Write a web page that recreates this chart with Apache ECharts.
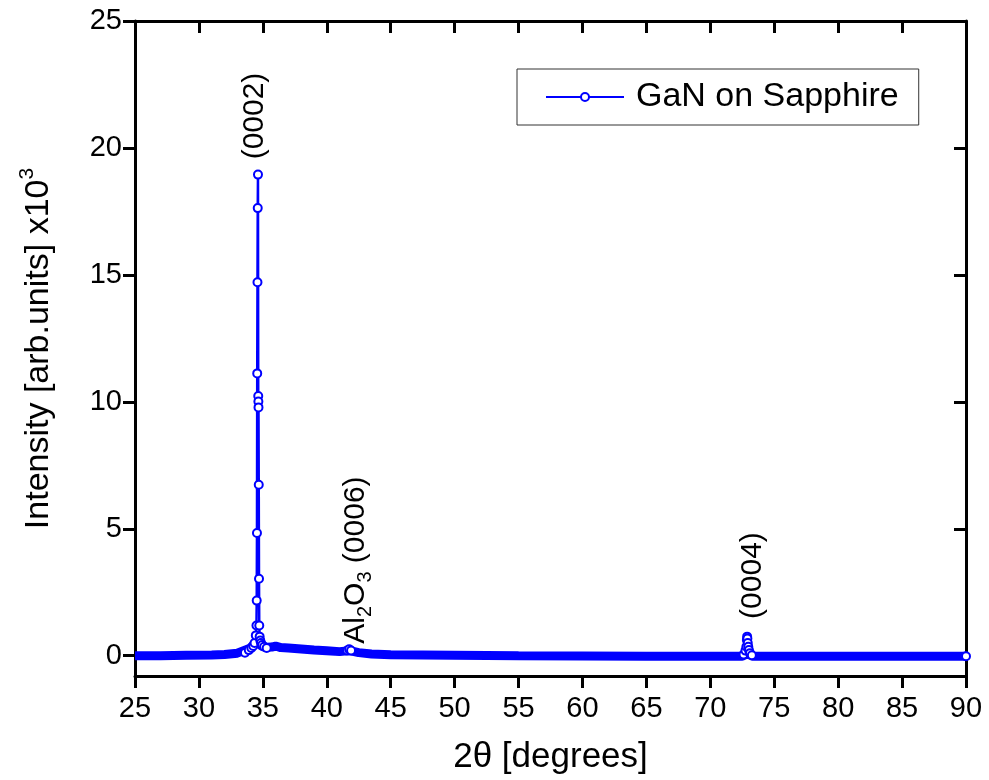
<!DOCTYPE html>
<html>
<head>
<meta charset="utf-8">
<script src="https://cdn.jsdelivr.net/npm/echarts@6/dist/echarts.min.js"></script>
<style>html,body{margin:0;padding:0;background:#fff}#c{width:989px;height:780px}</style>
</head>
<body>
<div id="c"></div>
<script>
// ---- data ----
// smooth background band of the dense scan (2theta in degrees, intensity x10^3)
var bandX = [25, 27, 29, 31, 32, 33, 33.5, 34, 34.3, 34.6, 34.9, 35.3, 35.7, 36.0, 36.4, 37, 38, 39, 40, 41, 41.8, 42.5, 43.5, 45, 50, 55, 60, 65, 70, 72.5, 72.9, 73.3, 75, 80, 85, 90];
var bandY = [0.0, 0.0, 0.02, 0.03, 0.05, 0.1, 0.2, 0.3, 0.45, 0.5, 0.38, 0.33, 0.34, 0.38, 0.32, 0.3, 0.26, 0.22, 0.19, 0.16, 0.2, 0.12, 0.07, 0.04, 0.02, 0.0, -0.01, -0.02, -0.02, -0.02, 0.08, -0.02, -0.02, -0.02, -0.02, -0.02];

// measured points with visible markers (null breaks the trace between regions)
var peakX = [33.6, 33.9, 34.1, 34.25, 34.35, 34.45, 34.5, 34.52, 34.54, 34.56, 34.58, 34.6, 34.62, 34.64, 34.65, 34.66, 34.68, 34.7, 34.72, 34.75, 34.8, 34.85, 34.95, 35.1, 35.3,
             null,
             41.6, 41.75, 41.9,
             null,
             72.6, 72.75, 72.82, 72.86, 72.88, 72.9, 72.93, 72.97, 73.02, 73.1, 73.25,
             null,
             90];
var peakY = [0.12, 0.22, 0.3, 0.38, 0.5, 0.8, 1.19, 2.17, 4.83, 11.12, 14.71, 17.63, 18.95, 10.23, 10.01, 9.78, 6.73, 3.03, 1.19, 0.75, 0.6, 0.5, 0.42, 0.35, 0.3,
             null,
             0.2, 0.25, 0.2,
             null,
             0.05, 0.2, 0.35, 0.62, 0.75, 0.68, 0.5, 0.35, 0.22, 0.1, 0.02,
             null,
             -0.02];

var seriesName = 'GaN on Sapphire';
var xTicks = [25, 30, 35, 40, 45, 50, 55, 60, 65, 70, 75, 80, 85, 90];
var yTicks = [0, 5, 10, 15, 20, 25];

// annotation labels: anchor (bottom of rotated text) in data coords
var annX = [34.39, 42.25, 73.35];
var annY = [19.55, 0.47, 1.45];
var annText = ['(0002)', 'Al{sub|2}O{sub|3} (0006)', '(0004)'];

// ---- build ----
var FONT = 'Liberation Sans, Arial, sans-serif';
var BLUE = '#0000ff';

function pairs(xs, ys) {
  var out = [];
  for (var i = 0; i < xs.length; i++) {
    out.push(xs[i] === null ? [null, null] : [xs[i], ys[i]]);
  }
  return out;
}

var chart = echarts.init(document.getElementById('c'), null, {renderer: 'canvas'});

var axisLine = {show: true, onZero: false, lineStyle: {color: '#000', width: 3}};

var option = {
  animation: false,
  backgroundColor: '#fff',
  grid: {left: 135, right: 23, top: 21, bottom: 103, containLabel: false},
  legend: {
    data: [seriesName],
    left: 517, top: 69,
    orient: 'horizontal',
    padding: [11, 20, 11, 28],
    borderColor: '#333', borderWidth: 1,
    itemWidth: 78, itemHeight: 10,
    textStyle: {fontFamily: FONT, fontSize: 34, color: '#000', padding: [0, 0, 0, 7]}
  },
  xAxis: [{
    type: 'value', min: 25, max: 90, interval: 5,
    position: 'bottom',
    name: '2\u03b8 [degrees]', nameLocation: 'middle', nameGap: 64,
    nameTextStyle: {fontFamily: FONT, fontSize: 35, color: '#000'},
    axisLine: axisLine,
    axisTick: {show: true, inside: false, length: 12, lineStyle: {color: '#000', width: 3}},
    axisLabel: {fontFamily: FONT, fontSize: 29, color: '#000', margin: 18},
    splitLine: {show: false}
  }, {
    type: 'value', min: 25, max: 90, interval: 5,
    position: 'top',
    axisLine: axisLine,
    axisTick: {show: true, inside: true, length: 12, lineStyle: {color: '#000', width: 3}},
    axisLabel: {show: false},
    splitLine: {show: false}
  }],
  yAxis: [{
    type: 'value', min: -0.8, max: 25,
    position: 'left',
    name: 'Intensity [arb.units] x10{sup|3}', nameLocation: 'middle', nameGap: 74,
    nameTextStyle: {fontFamily: FONT, fontSize: 34, color: '#000', lineHeight: 44,
      rich: {sup: {fontFamily: FONT, fontSize: 21, lineHeight: 21, verticalAlign: 'top', color: '#000'}}},
    axisLine: axisLine,
    axisTick: {show: true, inside: false, length: 12, customValues: yTicks, lineStyle: {color: '#000', width: 3}},
    axisLabel: {fontFamily: FONT, fontSize: 29, color: '#000', margin: 13, customValues: yTicks},
    splitLine: {show: false}
  }, {
    type: 'value', min: -0.8, max: 25,
    position: 'right',
    axisLine: axisLine,
    axisTick: {show: true, inside: true, length: 12, customValues: yTicks, lineStyle: {color: '#000', width: 3}},
    axisLabel: {show: false},
    splitLine: {show: false}
  }],
  series: [{
    name: 'band', type: 'line', data: pairs(bandX, bandY),
    xAxisIndex: 0, yAxisIndex: 0,
    showSymbol: false, symbol: 'none', silent: true,
    lineStyle: {color: BLUE, width: 9},
    itemStyle: {color: BLUE},
    z: 2
  }, {
    name: seriesName, type: 'line', data: pairs(peakX, peakY),
    xAxisIndex: 0, yAxisIndex: 0,
    connectNulls: false,
    symbol: 'emptyCircle', symbolSize: 8, showSymbol: true, showAllSymbol: true,
    lineStyle: {color: BLUE, width: 2.5},
    itemStyle: {color: BLUE, borderColor: BLUE, borderWidth: 1},
    z: 3
  }]
};
chart.setOption(option);

// place rotated annotations through the axis scales
var graphics = [];
for (var i = 0; i < annX.length; i++) {
  var p = chart.convertToPixel({xAxisIndex: 0, yAxisIndex: 0}, [annX[i], annY[i]]);
  graphics.push({
    type: 'text', x: p[0], y: p[1], rotation: Math.PI / 2, z: 10,
    style: {
      text: annText[i], fontFamily: FONT, fontSize: 30, fill: '#000',
      align: 'left', verticalAlign: 'middle', lineHeight: 40,
      rich: {sub: {fontFamily: FONT, fontSize: 20, lineHeight: 20, verticalAlign: 'bottom', fill: '#000'}}
    }
  });
}
chart.setOption({graphic: graphics});
</script>
</body>
</html>
